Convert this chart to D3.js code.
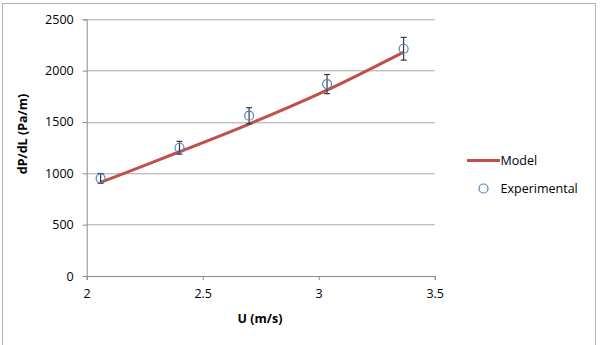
<!DOCTYPE html>
<html>
<head>
<meta charset="utf-8">
<script src="https://cdn.jsdelivr.net/npm/d3@7"></script>
<style>
  body { margin: 0; background: #fff; }
  text { font-family: "Open Sans", "Liberation Sans", sans-serif; }
</style>
</head>
<body>
<div id="chart"></div>
<script>
var svgWidth = 605;
var svgHeight = 345;

// data
var velocity = [2.06, 2.40, 2.70, 3.036, 3.366];
var measured = [951, 1249, 1561, 1869, 2213];
var errPct = 0.05;
var modelVals = [912, 1210, 1480, 1810, 2180];
var xTicks = [2, 2.5, 3, 3.5];
var yTicks = [0, 500, 1000, 1500, 2000, 2500];
var seriesNames = ["Model", "Experimental"];

var margin = { top: 19.3, left: 86.7 };
var width = 434.7 - 86.7;
var height = 276 - 19.3;

var svg = d3.select("#chart")
  .append("svg")
  .attr("width", svgWidth)
  .attr("height", svgHeight);

// outer frame
svg.append("rect")
  .attr("x", 2.5).attr("y", 3.5)
  .attr("width", 593).attr("height", 350)
  .attr("fill", "none")
  .attr("stroke", "#b3b3b3");

var chartGroup = svg.append("g")
  .attr("transform", `translate(${margin.left}, ${margin.top})`);

var x = d3.scaleLinear().domain([2, 3.5]).range([0, width]);
var y = d3.scaleLinear().domain([0, 2500]).range([height, 0]);

// gridlines
chartGroup.append("g")
  .selectAll("line")
  .data(yTicks.filter(d => d > 0))
  .enter()
  .append("line")
  .attr("x1", 0).attr("x2", width)
  .attr("y1", d => Math.round(y(d)) + 0.5)
  .attr("y2", d => Math.round(y(d)) + 0.5)
  .attr("stroke", "#a6a6a6");

var leftAxis = d3.axisLeft(y).tickValues(yTicks).tickFormat(d3.format("d")).tickSize(4).tickPadding(9);
var bottomAxis = d3.axisBottom(x).tickValues(xTicks).tickFormat(d3.format("")).tickSize(4).tickPadding(9);

var yAxisG = chartGroup.append("g").call(leftAxis);
var xAxisG = chartGroup.append("g")
  .attr("transform", `translate(0, ${height})`)
  .call(bottomAxis);

[yAxisG, xAxisG].forEach(function(g) {
  g.select(".domain").attr("stroke", "#8c8c8c");
  g.selectAll(".tick line").attr("stroke", "#8c8c8c");
  g.selectAll(".tick text")
    .attr("fill", "#000")
    .style("font-size", "12.5px")
    .style("font-family", "'Open Sans', sans-serif");
});

// model curve
var line = d3.line()
  .x((d, i) => x(velocity[i]))
  .y(d => y(d))
  .curve(d3.curveCatmullRom);

chartGroup.append("path")
  .datum(modelVals)
  .attr("d", line)
  .attr("fill", "none")
  .attr("stroke", "#c0504d")
  .attr("stroke-width", 3);

// error bars
var errG = chartGroup.append("g")
  .selectAll("g")
  .data(measured)
  .enter()
  .append("g")
  .attr("stroke", "#3a3a3a")
  .attr("stroke-width", 1.2);

errG.append("line")
  .attr("x1", (d, i) => x(velocity[i])).attr("x2", (d, i) => x(velocity[i]))
  .attr("y1", d => y(d * (1 + errPct))).attr("y2", d => y(d * (1 - errPct)));
errG.append("line")
  .attr("x1", (d, i) => x(velocity[i]) - 3).attr("x2", (d, i) => x(velocity[i]) + 3)
  .attr("y1", d => y(d * (1 + errPct))).attr("y2", d => y(d * (1 + errPct)));
errG.append("line")
  .attr("x1", (d, i) => x(velocity[i]) - 3).attr("x2", (d, i) => x(velocity[i]) + 3)
  .attr("y1", d => y(d * (1 - errPct))).attr("y2", d => y(d * (1 - errPct)));

// experimental markers
chartGroup.selectAll("circle.pt")
  .data(measured)
  .enter()
  .append("circle")
  .attr("class", "pt")
  .attr("cx", (d, i) => x(velocity[i]))
  .attr("cy", d => y(d))
  .attr("r", 4.5)
  .attr("fill", "none")
  .attr("stroke", "#4f81bd")
  .attr("stroke-width", 1.2);

// axis titles
svg.append("text")
  .attr("transform", "translate(27, 134) rotate(-90)")
  .attr("text-anchor", "middle")
  .style("font-size", "12.5px")
  .style("font-weight", "bold")
  .text("dP/dL (Pa/m)");

svg.append("text")
  .attr("x", 260).attr("y", 323)
  .attr("text-anchor", "middle")
  .style("font-size", "12.5px")
  .style("font-weight", "bold")
  .text("U (m/s)");

// legend
var legend = svg.append("g");
legend.append("line")
  .attr("x1", 467).attr("x2", 500)
  .attr("y1", 160.5).attr("y2", 160.5)
  .attr("stroke", "#c0504d")
  .attr("stroke-width", 3);
legend.append("circle")
  .attr("cx", 483.5).attr("cy", 188.5)
  .attr("r", 4.5)
  .attr("fill", "none")
  .attr("stroke", "#4f81bd")
  .attr("stroke-width", 1.2);
legend.selectAll("text")
  .data(seriesNames)
  .enter()
  .append("text")
  .attr("x", 500.5)
  .attr("y", (d, i) => 165 + i * 28)
  .style("font-size", "12.5px")
  .text(d => d);
</script>
</body>
</html>
